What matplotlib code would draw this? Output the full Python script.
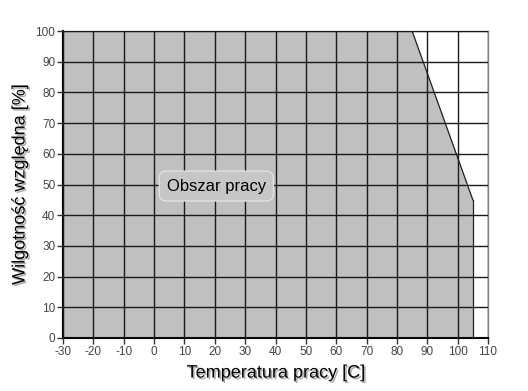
import matplotlib
matplotlib.use('Agg')
import matplotlib.pyplot as plt
import matplotlib.patheffects as pe

# operating area boundary (temperature C, humidity %)
temp = [-30, 85, 105, 105]
humidity = [100, 100, 45, 0]
x_ticks = list(range(-30, 111, 10))
y_ticks = list(range(0, 101, 10))

plt.rcParams['font.family'] = ['Liberation Sans', 'DejaVu Sans']
plt.rcParams['axes.unicode_minus'] = False

fig = plt.figure(figsize=(5.28, 3.91), dpi=100)
ax = fig.add_axes([63 / 528, 1 - 338 / 391, 425 / 528, 307 / 391])

ax.fill_between(temp, humidity, 0, color='#c0c0c0', zorder=1, linewidth=0)
ax.plot(temp[1:3], humidity[1:3], color='#202020', lw=0.9, zorder=3)
ax.plot(temp[2:4], humidity[2:4], color='#202020', lw=0.9, zorder=3)

ax.set_xlim(-30, 110)
ax.set_ylim(0, 100)
ax.set_xticks(x_ticks)
ax.set_yticks(y_ticks)
ax.grid(True, color='#1a1a1a', lw=1.0, zorder=2)
ax.set_axisbelow(False)
for side in ['top', 'right']:
    ax.spines[side].set_color('#808080')
    ax.spines[side].set_linewidth(1.0)
for side in ['left', 'bottom']:
    ax.spines[side].set_color('black')
    ax.spines[side].set_linewidth(1.5)
ax.tick_params(direction='out', length=4, width=1, labelsize=8.5,
               labelcolor='#444444', color='#333333', pad=1.5)

shadow = [pe.withSimplePatchShadow(offset=(1.2, -1.2), shadow_rgbFace='#555555', alpha=0.5)]
ax.set_xlabel('Temperatura pracy [C]', fontsize=13, labelpad=5, path_effects=shadow)
ax.set_ylabel('Wilgotność względna [%]', fontsize=13, labelpad=5, path_effects=shadow)

ax.text(20.5, 49.5, 'Obszar pracy', fontsize=12, ha='center', va='center', zorder=5,
        bbox=dict(boxstyle='round,pad=0.45', facecolor='#c6c6c6', edgecolor='#e8e8e8', lw=0.8))

fig.savefig('out.png', dpi=100)
